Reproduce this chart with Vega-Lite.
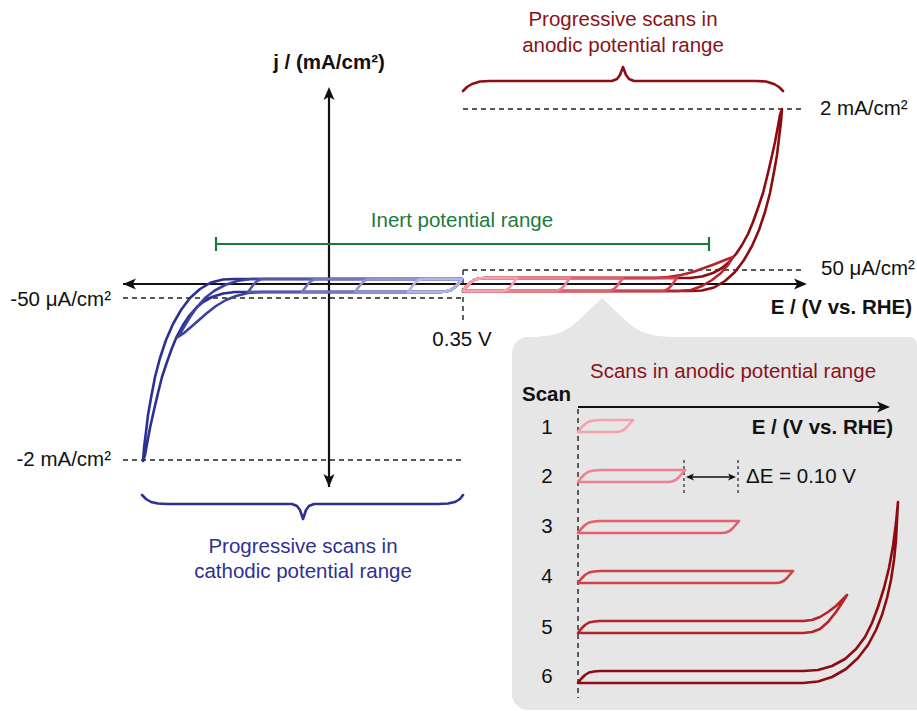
{
"$schema":"https://vega.github.io/schema/vega-lite/v6.json",
"width":917,"height":711,
"autosize":{"type":"fit","contains":"padding"},
"padding":0,
"background":"white",
"config":{"view":{"stroke":null},"text":{"font":"Liberation Sans","fontSize":20.5,"baseline":"middle"}},
"datasets":{
"box":[{"x":512,"y":337,"x2":917,"y2":710}],
"pointer":[{"x":535,"y":337,"yb":345},{"x":550,"y":335.5,"yb":345},{"x":562,"y":332,"yb":345},{"x":572,"y":326,"yb":345},{"x":580,"y":319,"yb":345},{"x":602,"y":298,"yb":345},{"x":624,"y":319,"yb":345},{"x":632,"y":326,"yb":345},{"x":642,"y":332,"yb":345},{"x":654,"y":335.5,"yb":345},{"x":669,"y":337,"yb":345}],
"dash":[{"x":463,"y":109,"x2":805,"y2":109},{"x":463,"y":270,"x2":805,"y2":270},{"x":463,"y":270,"x2":463,"y2":322},{"x":123,"y":298,"x2":463,"y2":298},{"x":123,"y":460,"x2":463,"y2":460},{"x":578,"y":409,"x2":578,"y2":698}],
"finedash":[{"x":684,"y":460,"x2":684,"y2":493},{"x":738,"y":460,"x2":738,"y2":493}],
"axes":[{"x":123,"y":284,"x2":803,"y2":284},{"x":329,"y":91,"x2":329,"y2":487},{"x":578,"y":407,"x2":886,"y2":407}],
"dbl":[{"x":688,"y":477,"x2":734,"y2":477}],
"heads":[{"x":123,"y":284,"d":"l"},{"x":807,"y":284,"d":"r"},{"x":329,"y":87,"d":"u"},{"x":329,"y":487,"d":"d"},{"x":890,"y":407,"d":"r"}],
"smallheads":[{"x":686,"y":477,"d":"l"},{"x":736,"y":477,"d":"r"}],
"green":[{"x":216,"y":244,"x2":709,"y2":244},{"x":216,"y":237,"x2":216,"y2":251},{"x":709,"y":237,"x2":709,"y2":251}],
"loops":[
{"s":"a6","o":1,"x":463,"y":291},{"s":"a6","o":2,"x":466,"y":287},{"s":"a6","o":3,"x":470,"y":283},{"s":"a6","o":4,"x":474,"y":280},{"s":"a6","o":5,"x":479,"y":278.5},{"s":"a6","o":6,"x":485,"y":278},{"s":"a6","o":7,"x":690,"y":278},{"s":"a6","o":8,"x":702,"y":276.5},{"s":"a6","o":9,"x":713,"y":273},{"s":"a6","o":10,"x":722,"y":268},{"s":"a6","o":11,"x":729,"y":262},{"s":"a6","o":12,"x":736,"y":254},{"s":"a6","o":13,"x":742,"y":245},{"s":"a6","o":14,"x":748,"y":234},{"s":"a6","o":15,"x":753,"y":222},{"s":"a6","o":16,"x":758,"y":208},{"s":"a6","o":17,"x":763,"y":193},{"s":"a6","o":18,"x":767,"y":177},{"s":"a6","o":19,"x":771,"y":160},{"s":"a6","o":20,"x":775,"y":142},{"s":"a6","o":21,"x":778,"y":126},{"s":"a6","o":22,"x":780,"y":115},{"s":"a6","o":23,"x":782,"y":109},{"s":"a6","o":24,"x":781,"y":122},{"s":"a6","o":25,"x":779,"y":138},{"s":"a6","o":26,"x":777,"y":155},{"s":"a6","o":27,"x":774,"y":172},{"s":"a6","o":28,"x":770,"y":193},{"s":"a6","o":29,"x":765,"y":212},{"s":"a6","o":30,"x":759,"y":230},{"s":"a6","o":31,"x":752,"y":246},{"s":"a6","o":32,"x":744,"y":260},{"s":"a6","o":33,"x":735,"y":272},{"s":"a6","o":34,"x":725,"y":281},{"s":"a6","o":35,"x":714,"y":287.5},{"s":"a6","o":36,"x":702,"y":290.5},{"s":"a6","o":37,"x":690,"y":291},{"s":"a6","o":38,"x":463,"y":291},
{"s":"a5","o":1,"x":463,"y":291},{"s":"a5","o":2,"x":466,"y":287},{"s":"a5","o":3,"x":470,"y":283},{"s":"a5","o":4,"x":474,"y":280},{"s":"a5","o":5,"x":479,"y":278.5},{"s":"a5","o":6,"x":485,"y":278},{"s":"a5","o":7,"x":655,"y":278},{"s":"a5","o":8,"x":668,"y":277},{"s":"a5","o":9,"x":681,"y":275},{"s":"a5","o":10,"x":693,"y":272},{"s":"a5","o":11,"x":704,"y":268},{"s":"a5","o":12,"x":715,"y":264},{"s":"a5","o":13,"x":725,"y":260},{"s":"a5","o":14,"x":733,"y":257},{"s":"a5","o":15,"x":728,"y":265},{"s":"a5","o":16,"x":721,"y":273},{"s":"a5","o":17,"x":712,"y":280},{"s":"a5","o":18,"x":702,"y":286},{"s":"a5","o":19,"x":691,"y":290},{"s":"a5","o":20,"x":678,"y":291},{"s":"a5","o":21,"x":663,"y":291},{"s":"a5","o":22,"x":463,"y":291},
{"s":"a4","o":1,"x":463,"y":291},{"s":"a4","o":2,"x":466,"y":287},{"s":"a4","o":3,"x":470,"y":283},{"s":"a4","o":4,"x":474,"y":280},{"s":"a4","o":5,"x":479,"y":278.5},{"s":"a4","o":6,"x":485,"y":278},{"s":"a4","o":7,"x":677,"y":278},{"s":"a4","o":8,"x":674,"y":282},{"s":"a4","o":9,"x":671,"y":286},{"s":"a4","o":10,"x":668,"y":289},{"s":"a4","o":11,"x":664,"y":290.7},{"s":"a4","o":12,"x":660,"y":291},{"s":"a4","o":13,"x":463,"y":291},
{"s":"a3","o":1,"x":463,"y":291},{"s":"a3","o":2,"x":466,"y":287},{"s":"a3","o":3,"x":470,"y":283},{"s":"a3","o":4,"x":474,"y":280},{"s":"a3","o":5,"x":479,"y":278.5},{"s":"a3","o":6,"x":485,"y":278},{"s":"a3","o":7,"x":623,"y":278},{"s":"a3","o":8,"x":620,"y":282},{"s":"a3","o":9,"x":617,"y":286},{"s":"a3","o":10,"x":614,"y":289},{"s":"a3","o":11,"x":610,"y":290.7},{"s":"a3","o":12,"x":606,"y":291},{"s":"a3","o":13,"x":463,"y":291},
{"s":"a2","o":1,"x":463,"y":291},{"s":"a2","o":2,"x":466,"y":287},{"s":"a2","o":3,"x":470,"y":283},{"s":"a2","o":4,"x":474,"y":280},{"s":"a2","o":5,"x":479,"y":278.5},{"s":"a2","o":6,"x":485,"y":278},{"s":"a2","o":7,"x":570,"y":278},{"s":"a2","o":8,"x":567,"y":282},{"s":"a2","o":9,"x":564,"y":286},{"s":"a2","o":10,"x":561,"y":289},{"s":"a2","o":11,"x":557,"y":290.7},{"s":"a2","o":12,"x":553,"y":291},{"s":"a2","o":13,"x":463,"y":291},
{"s":"a1","o":1,"x":463,"y":291},{"s":"a1","o":2,"x":466,"y":287},{"s":"a1","o":3,"x":470,"y":283},{"s":"a1","o":4,"x":474,"y":280},{"s":"a1","o":5,"x":479,"y":278.5},{"s":"a1","o":6,"x":485,"y":278},{"s":"a1","o":7,"x":517,"y":278},{"s":"a1","o":8,"x":514,"y":282},{"s":"a1","o":9,"x":511,"y":286},{"s":"a1","o":10,"x":508,"y":289},{"s":"a1","o":11,"x":504,"y":290.7},{"s":"a1","o":12,"x":500,"y":291},{"s":"a1","o":13,"x":463,"y":291},
{"s":"c6","o":1,"x":462,"y":279},{"s":"c6","o":2,"x":459,"y":283},{"s":"c6","o":3,"x":455,"y":287},{"s":"c6","o":4,"x":451,"y":290},{"s":"c6","o":5,"x":446,"y":291.5},{"s":"c6","o":6,"x":440,"y":292},{"s":"c6","o":7,"x":235,"y":292},{"s":"c6","o":8,"x":223,"y":293.5},{"s":"c6","o":9,"x":212,"y":297},{"s":"c6","o":10,"x":203,"y":302},{"s":"c6","o":11,"x":196,"y":308},{"s":"c6","o":12,"x":189,"y":316},{"s":"c6","o":13,"x":183,"y":325},{"s":"c6","o":14,"x":177,"y":336},{"s":"c6","o":15,"x":172,"y":348},{"s":"c6","o":16,"x":167,"y":362},{"s":"c6","o":17,"x":162,"y":377},{"s":"c6","o":18,"x":158,"y":393},{"s":"c6","o":19,"x":154,"y":410},{"s":"c6","o":20,"x":150,"y":428},{"s":"c6","o":21,"x":147,"y":444},{"s":"c6","o":22,"x":145,"y":455},{"s":"c6","o":23,"x":143,"y":461},{"s":"c6","o":24,"x":144,"y":448},{"s":"c6","o":25,"x":146,"y":432},{"s":"c6","o":26,"x":148,"y":415},{"s":"c6","o":27,"x":151,"y":398},{"s":"c6","o":28,"x":155,"y":377},{"s":"c6","o":29,"x":160,"y":358},{"s":"c6","o":30,"x":166,"y":340},{"s":"c6","o":31,"x":173,"y":324},{"s":"c6","o":32,"x":181,"y":310},{"s":"c6","o":33,"x":190,"y":298},{"s":"c6","o":34,"x":200,"y":289},{"s":"c6","o":35,"x":211,"y":282.5},{"s":"c6","o":36,"x":223,"y":279.5},{"s":"c6","o":37,"x":235,"y":279},{"s":"c6","o":38,"x":462,"y":279},
{"s":"c5","o":1,"x":462,"y":279},{"s":"c5","o":2,"x":459,"y":283},{"s":"c5","o":3,"x":455,"y":287},{"s":"c5","o":4,"x":451,"y":290},{"s":"c5","o":5,"x":446,"y":291.5},{"s":"c5","o":6,"x":440,"y":292},{"s":"c5","o":7,"x":262,"y":292},{"s":"c5","o":8,"x":248,"y":293},{"s":"c5","o":9,"x":236,"y":296},{"s":"c5","o":10,"x":226,"y":300},{"s":"c5","o":11,"x":216,"y":306},{"s":"c5","o":12,"x":207,"y":313},{"s":"c5","o":13,"x":199,"y":320},{"s":"c5","o":14,"x":191,"y":327},{"s":"c5","o":15,"x":184,"y":333},{"s":"c5","o":16,"x":178,"y":337},{"s":"c5","o":17,"x":184,"y":327},{"s":"c5","o":18,"x":190,"y":317},{"s":"c5","o":19,"x":197,"y":307},{"s":"c5","o":20,"x":205,"y":298},{"s":"c5","o":21,"x":214,"y":291},{"s":"c5","o":22,"x":225,"y":285},{"s":"c5","o":23,"x":237,"y":281},{"s":"c5","o":24,"x":251,"y":279},{"s":"c5","o":25,"x":265,"y":279},{"s":"c5","o":26,"x":462,"y":279},
{"s":"c4","o":1,"x":462,"y":279},{"s":"c4","o":2,"x":459,"y":283},{"s":"c4","o":3,"x":455,"y":287},{"s":"c4","o":4,"x":451,"y":290},{"s":"c4","o":5,"x":446,"y":291.5},{"s":"c4","o":6,"x":440,"y":292},{"s":"c4","o":7,"x":248,"y":292},{"s":"c4","o":8,"x":251,"y":288},{"s":"c4","o":9,"x":254,"y":284},{"s":"c4","o":10,"x":257,"y":281},{"s":"c4","o":11,"x":261,"y":279.3},{"s":"c4","o":12,"x":265,"y":279},{"s":"c4","o":13,"x":462,"y":279},
{"s":"c3","o":1,"x":462,"y":279},{"s":"c3","o":2,"x":459,"y":283},{"s":"c3","o":3,"x":455,"y":287},{"s":"c3","o":4,"x":451,"y":290},{"s":"c3","o":5,"x":446,"y":291.5},{"s":"c3","o":6,"x":440,"y":292},{"s":"c3","o":7,"x":302,"y":292},{"s":"c3","o":8,"x":305,"y":288},{"s":"c3","o":9,"x":308,"y":284},{"s":"c3","o":10,"x":311,"y":281},{"s":"c3","o":11,"x":315,"y":279.3},{"s":"c3","o":12,"x":319,"y":279},{"s":"c3","o":13,"x":462,"y":279},
{"s":"c2","o":1,"x":462,"y":279},{"s":"c2","o":2,"x":459,"y":283},{"s":"c2","o":3,"x":455,"y":287},{"s":"c2","o":4,"x":451,"y":290},{"s":"c2","o":5,"x":446,"y":291.5},{"s":"c2","o":6,"x":440,"y":292},{"s":"c2","o":7,"x":355,"y":292},{"s":"c2","o":8,"x":358,"y":288},{"s":"c2","o":9,"x":361,"y":284},{"s":"c2","o":10,"x":364,"y":281},{"s":"c2","o":11,"x":368,"y":279.3},{"s":"c2","o":12,"x":372,"y":279},{"s":"c2","o":13,"x":462,"y":279},
{"s":"c1","o":1,"x":462,"y":279},{"s":"c1","o":2,"x":459,"y":283},{"s":"c1","o":3,"x":455,"y":287},{"s":"c1","o":4,"x":451,"y":290},{"s":"c1","o":5,"x":446,"y":291.5},{"s":"c1","o":6,"x":440,"y":292},{"s":"c1","o":7,"x":408,"y":292},{"s":"c1","o":8,"x":411,"y":288},{"s":"c1","o":9,"x":414,"y":284},{"s":"c1","o":10,"x":417,"y":281},{"s":"c1","o":11,"x":421,"y":279.3},{"s":"c1","o":12,"x":425,"y":279},{"s":"c1","o":13,"x":462,"y":279},
{"s":"i1","o":1,"x":578,"y":432},{"s":"i1","o":2,"x":581,"y":428},{"s":"i1","o":3,"x":585,"y":424},{"s":"i1","o":4,"x":589,"y":421.5},{"s":"i1","o":5,"x":594,"y":420.5},{"s":"i1","o":6,"x":600,"y":420},{"s":"i1","o":7,"x":633,"y":420},{"s":"i1","o":8,"x":630,"y":423.5},{"s":"i1","o":9,"x":627,"y":427},{"s":"i1","o":10,"x":624,"y":429.7},{"s":"i1","o":11,"x":620,"y":431.5},{"s":"i1","o":12,"x":616,"y":432},{"s":"i1","o":13,"x":578,"y":432},
{"s":"i2","o":1,"x":578,"y":482},{"s":"i2","o":2,"x":581,"y":478},{"s":"i2","o":3,"x":585,"y":474},{"s":"i2","o":4,"x":589,"y":471.5},{"s":"i2","o":5,"x":594,"y":470.5},{"s":"i2","o":6,"x":600,"y":470},{"s":"i2","o":7,"x":685,"y":470},{"s":"i2","o":8,"x":682,"y":473.5},{"s":"i2","o":9,"x":679,"y":477},{"s":"i2","o":10,"x":676,"y":479.7},{"s":"i2","o":11,"x":672,"y":481.5},{"s":"i2","o":12,"x":668,"y":482},{"s":"i2","o":13,"x":578,"y":482},
{"s":"i3","o":1,"x":578,"y":533},{"s":"i3","o":2,"x":581,"y":529},{"s":"i3","o":3,"x":585,"y":525},{"s":"i3","o":4,"x":589,"y":522.5},{"s":"i3","o":5,"x":594,"y":521.5},{"s":"i3","o":6,"x":600,"y":521},{"s":"i3","o":7,"x":739,"y":521},{"s":"i3","o":8,"x":736,"y":524.5},{"s":"i3","o":9,"x":733,"y":528},{"s":"i3","o":10,"x":730,"y":530.7},{"s":"i3","o":11,"x":726,"y":532.5},{"s":"i3","o":12,"x":722,"y":533},{"s":"i3","o":13,"x":578,"y":533},
{"s":"i4","o":1,"x":578,"y":583},{"s":"i4","o":2,"x":581,"y":579},{"s":"i4","o":3,"x":585,"y":575},{"s":"i4","o":4,"x":589,"y":572.5},{"s":"i4","o":5,"x":594,"y":571.5},{"s":"i4","o":6,"x":600,"y":571},{"s":"i4","o":7,"x":793,"y":571},{"s":"i4","o":8,"x":790,"y":574.5},{"s":"i4","o":9,"x":787,"y":578},{"s":"i4","o":10,"x":784,"y":580.7},{"s":"i4","o":11,"x":780,"y":582.5},{"s":"i4","o":12,"x":776,"y":583},{"s":"i4","o":13,"x":578,"y":583},
{"s":"i5","o":1,"x":578,"y":633},{"s":"i5","o":2,"x":581,"y":629},{"s":"i5","o":3,"x":585,"y":625},{"s":"i5","o":4,"x":589,"y":622.5},{"s":"i5","o":5,"x":594,"y":621.5},{"s":"i5","o":6,"x":600,"y":621},{"s":"i5","o":7,"x":803,"y":621},{"s":"i5","o":8,"x":812,"y":620},{"s":"i5","o":9,"x":820,"y":617},{"s":"i5","o":10,"x":828,"y":612},{"s":"i5","o":11,"x":836,"y":606},{"s":"i5","o":12,"x":842,"y":600},{"s":"i5","o":13,"x":847,"y":595},{"s":"i5","o":14,"x":842,"y":603},{"s":"i5","o":15,"x":836,"y":612},{"s":"i5","o":16,"x":828,"y":622},{"s":"i5","o":17,"x":820,"y":629},{"s":"i5","o":18,"x":812,"y":632},{"s":"i5","o":19,"x":803,"y":633},{"s":"i5","o":20,"x":578,"y":633},
{"s":"i6","o":1,"x":578,"y":683},{"s":"i6","o":2,"x":581,"y":679},{"s":"i6","o":3,"x":585,"y":675},{"s":"i6","o":4,"x":589,"y":672.5},{"s":"i6","o":5,"x":594,"y":671.5},{"s":"i6","o":6,"x":600,"y":671},{"s":"i6","o":7,"x":803,"y":671},{"s":"i6","o":8,"x":818,"y":670},{"s":"i6","o":9,"x":832,"y":666},{"s":"i6","o":10,"x":845,"y":659},{"s":"i6","o":11,"x":856,"y":649},{"s":"i6","o":12,"x":865,"y":637},{"s":"i6","o":13,"x":872,"y":623},{"s":"i6","o":14,"x":878,"y":607},{"s":"i6","o":15,"x":884,"y":588},{"s":"i6","o":16,"x":889,"y":568},{"s":"i6","o":17,"x":893,"y":546},{"s":"i6","o":18,"x":896,"y":523},{"s":"i6","o":19,"x":898,"y":502},{"s":"i6","o":20,"x":897,"y":520},{"s":"i6","o":21,"x":896,"y":540},{"s":"i6","o":22,"x":894,"y":560},{"s":"i6","o":23,"x":891,"y":580},{"s":"i6","o":24,"x":887,"y":598},{"s":"i6","o":25,"x":882,"y":615},{"s":"i6","o":26,"x":876,"y":630},{"s":"i6","o":27,"x":868,"y":645},{"s":"i6","o":28,"x":858,"y":658},{"s":"i6","o":29,"x":846,"y":669},{"s":"i6","o":30,"x":832,"y":677},{"s":"i6","o":31,"x":818,"y":681.5},{"s":"i6","o":32,"x":803,"y":683},{"s":"i6","o":33,"x":578,"y":683},
{"s":"bra","o":1,"x":463,"y":91},{"s":"bra","o":2,"x":467,"y":87},{"s":"bra","o":3,"x":472,"y":84},{"s":"bra","o":4,"x":480,"y":81.5},{"s":"bra","o":5,"x":490,"y":81},{"s":"bra","o":6,"x":612,"y":81},{"s":"bra","o":7,"x":617,"y":79},{"s":"bra","o":8,"x":620,"y":75},{"s":"bra","o":9,"x":623,"y":67},{"s":"bra","o":10,"x":626,"y":75},{"s":"bra","o":11,"x":629,"y":79},{"s":"bra","o":12,"x":634,"y":81},{"s":"bra","o":13,"x":756,"y":81},{"s":"bra","o":14,"x":766,"y":81.5},{"s":"bra","o":15,"x":774,"y":84},{"s":"bra","o":16,"x":779,"y":87},{"s":"bra","o":17,"x":783,"y":91},
{"s":"brc","o":1,"x":142,"y":495},{"s":"brc","o":2,"x":146,"y":499},{"s":"brc","o":3,"x":151,"y":502},{"s":"brc","o":4,"x":158,"y":503.5},{"s":"brc","o":5,"x":168,"y":504},{"s":"brc","o":6,"x":292,"y":504},{"s":"brc","o":7,"x":297,"y":506},{"s":"brc","o":8,"x":300,"y":510},{"s":"brc","o":9,"x":303,"y":519},{"s":"brc","o":10,"x":306,"y":510},{"s":"brc","o":11,"x":309,"y":506},{"s":"brc","o":12,"x":314,"y":504},{"s":"brc","o":13,"x":438,"y":504},{"s":"brc","o":14,"x":448,"y":503.5},{"s":"brc","o":15,"x":455,"y":502},{"s":"brc","o":16,"x":460,"y":499},{"s":"brc","o":17,"x":463,"y":495}
],
"tleft":[{"x":820,"y":109,"t":"2 mA/cm²"},{"x":821,"y":269,"t":"50 μA/cm²"},{"x":746,"y":477,"t":"ΔE = 0.10 V"}],
"tright":[{"x":111,"y":300,"t":"-50 μA/cm²"},{"x":111,"y":460,"t":"-2 mA/cm²"}],
"tcenter":[{"x":462,"y":340,"t":"0.35 V"},{"x":547,"y":428,"t":"1"},{"x":547,"y":477,"t":"2"},{"x":547,"y":527,"t":"3"},{"x":547,"y":577,"t":"4"},{"x":547,"y":628,"t":"5"},{"x":547,"y":677,"t":"6"}],
"bcenter":[{"x":329,"y":63,"t":"j / (mA/cm²)"}],
"bright":[{"x":912,"y":308,"t":"E / (V vs. RHE)"},{"x":893,"y":428,"t":"E / (V vs. RHE)"}],
"bleft":[{"x":522,"y":395,"t":"Scan"}],
"tred":[{"x":623,"y":20,"t":"Progressive scans in"},{"x":623,"y":46,"t":"anodic potential range"},{"x":733,"y":372,"t":"Scans in anodic potential range"}],
"tblue":[{"x":303,"y":547,"t":"Progressive scans in"},{"x":303,"y":572,"t":"cathodic potential range"}],
"tgreen":[{"x":462,"y":221,"t":"Inert potential range"}]
},
"encoding":{
"x":{"field":"x","type":"quantitative","scale":{"domain":[0,917],"nice":false,"zero":false},"axis":null},
"y":{"field":"y","type":"quantitative","scale":{"domain":[0,711],"reverse":true,"nice":false,"zero":false},"axis":null}
},
"layer":[
{"data":{"name":"box"},"mark":{"type":"rect","color":"#e6e6e6","cornerRadiusTopLeft":16,"cornerRadiusBottomLeft":16,"cornerRadiusTopRight":8,"cornerRadiusBottomRight":0},"encoding":{"x2":{"field":"x2"},"y2":{"field":"y2"}}},
{"data":{"name":"pointer"},"mark":{"type":"area","color":"#e6e6e6","opacity":1},"encoding":{"y2":{"field":"yb"}}},
{"data":{"name":"dash"},"mark":{"type":"rule","color":"#222222","strokeWidth":1.4,"strokeDash":[5,4]},"encoding":{"x2":{"field":"x2"},"y2":{"field":"y2"}}},
{"data":{"name":"finedash"},"mark":{"type":"rule","color":"#222222","strokeWidth":1.2,"strokeDash":[3,3]},"encoding":{"x2":{"field":"x2"},"y2":{"field":"y2"}}},
{"data":{"name":"axes"},"mark":{"type":"rule","color":"#111111","strokeWidth":2.2},"encoding":{"x2":{"field":"x2"},"y2":{"field":"y2"}}},
{"data":{"name":"dbl"},"mark":{"type":"rule","color":"#111111","strokeWidth":1.6},"encoding":{"x2":{"field":"x2"},"y2":{"field":"y2"}}},
{"data":{"name":"heads"},"mark":{"type":"point","filled":true,"color":"#111111","opacity":1,"size":169,"strokeWidth":0},"encoding":{"shape":{"field":"d","type":"nominal","scale":{"domain":["l","r","u","d"],"range":["M0,0L2,-0.85L1.5,0L2,0.85Z","M0,0L-2,-0.85L-1.5,0L-2,0.85Z","M0,0L-0.85,2L0,1.5L0.85,2Z","M0,0L-0.85,-2L0,-1.5L0.85,-2Z"]},"legend":null}}},
{"data":{"name":"smallheads"},"mark":{"type":"point","filled":true,"color":"#111111","opacity":1,"size":64,"strokeWidth":0},"encoding":{"shape":{"field":"d","type":"nominal","scale":{"domain":["l","r","u","d"],"range":["M0,0L2,-0.85L1.5,0L2,0.85Z","M0,0L-2,-0.85L-1.5,0L-2,0.85Z","M0,0L-0.85,2L0,1.5L0.85,2Z","M0,0L-0.85,-2L0,-1.5L0.85,-2Z"]},"legend":null}}},
{"data":{"name":"green"},"mark":{"type":"rule","color":"#1d7a3d","strokeWidth":2.2},"encoding":{"x2":{"field":"x2"},"y2":{"field":"y2"}}},
{"data":{"name":"loops"},"mark":{"type":"line","strokeWidth":2.6,"strokeJoin":"round","strokeCap":"round"},"encoding":{"color":{"field":"s","type":"nominal","scale":{"domain":["a1","a2","a3","a4","a5","a6","c1","c2","c3","c4","c5","c6","i1","i2","i3","i4","i5","i6","bra","brc"],"range":["#f4a3ae","#ee8290","#e0606c","#d0424b","#b5232b","#8d0c12","#b3b6df","#9296cf","#7277be","#5459ad","#3c419f","#2b3192","#f4a3ae","#ee8290","#e0606c","#d0424b","#b5232b","#8d0c12","#8b1016","#2e3192"]},"legend":null},"order":{"field":"o","type":"quantitative"}}},
{"data":{"name":"tleft"},"mark":{"type":"text","align":"left","color":"#111111"},"encoding":{"text":{"field":"t"}}},
{"data":{"name":"tright"},"mark":{"type":"text","align":"right","color":"#111111"},"encoding":{"text":{"field":"t"}}},
{"data":{"name":"tcenter"},"mark":{"type":"text","align":"center","color":"#111111"},"encoding":{"text":{"field":"t"}}},
{"data":{"name":"bcenter"},"mark":{"type":"text","align":"center","fontWeight":"bold","color":"#111111"},"encoding":{"text":{"field":"t"}}},
{"data":{"name":"bright"},"mark":{"type":"text","align":"right","fontWeight":"bold","color":"#111111"},"encoding":{"text":{"field":"t"}}},
{"data":{"name":"bleft"},"mark":{"type":"text","align":"left","fontWeight":"bold","color":"#111111"},"encoding":{"text":{"field":"t"}}},
{"data":{"name":"tred"},"mark":{"type":"text","align":"center","color":"#8b1219"},"encoding":{"text":{"field":"t"}}},
{"data":{"name":"tblue"},"mark":{"type":"text","align":"center","color":"#2e3192"},"encoding":{"text":{"field":"t"}}},
{"data":{"name":"tgreen"},"mark":{"type":"text","align":"center","color":"#1d7a3d"},"encoding":{"text":{"field":"t"}}}
]
}
